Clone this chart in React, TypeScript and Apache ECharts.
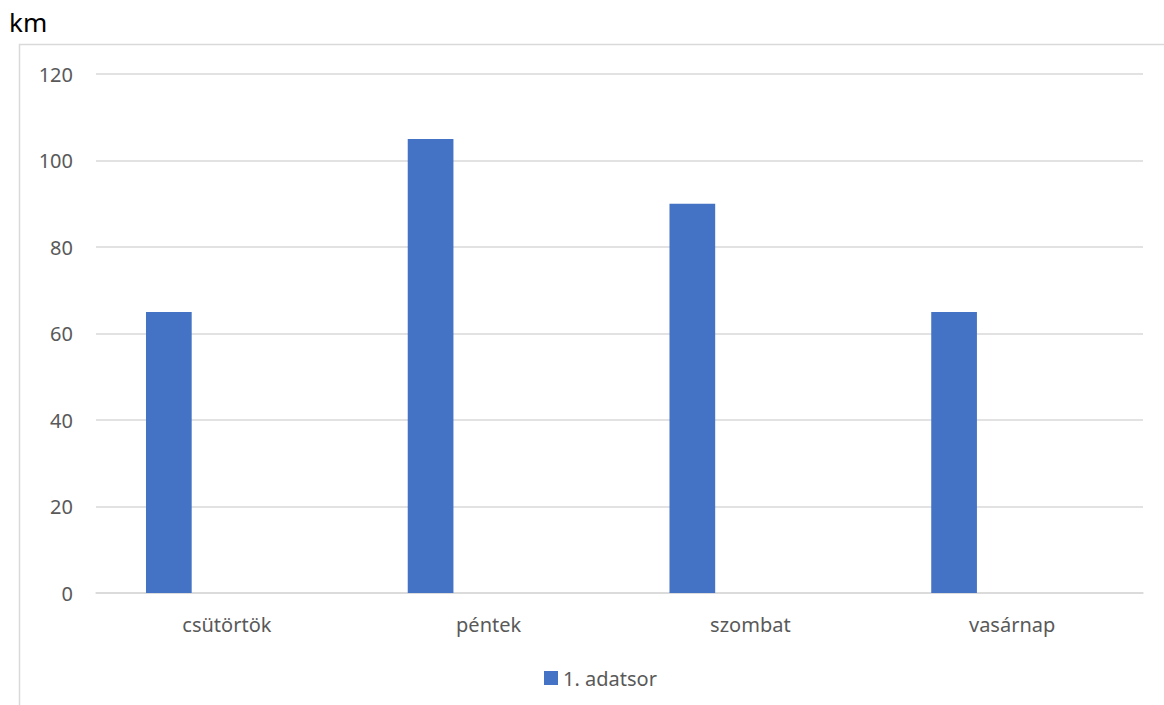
import React, { useEffect, useRef } from "react";
import * as echarts from "echarts";

const categories = ["csütörtök", "péntek", "szombat", "vasárnap"];
const series1 = [65, 105, 90, 65];
const seriesName = "1. adatsor";
const yTicks = { min: 0, max: 120, interval: 20 };
const unitLabel = "km";

export default function App() {
  const ref = useRef<HTMLDivElement>(null);
  useEffect(() => {
    if (!ref.current) return;
    const chart = echarts.init(ref.current, undefined, { renderer: "svg" });
    const font = "'Noto Sans', 'Open Sans', sans-serif";
    chart.setOption({
      animation: false,
      textStyle: { fontFamily: font },
      graphic: [
        {
          type: "rect",
          shape: { x: 19.5, y: 44.5, width: 1200, height: 700 },
          style: { fill: "none", stroke: "#d9d9d9", lineWidth: 1.5 },
          silent: true,
        },
        {
          type: "text",
          left: 9,
          top: 9,
          style: { text: unitLabel, fill: "#000", fontSize: 26, fontFamily: font },
        },
      ],
      grid: { left: 96, right: 21, top: 74, bottom: 112, containLabel: false },
      legend: {
        data: [seriesName],
        left: 539,
        top: 663,
        itemWidth: 14,
        itemHeight: 14,
        itemGap: 6,
        icon: "rect",
        textStyle: { color: "#595959", fontSize: 20, fontFamily: font },
      },
      xAxis: {
        type: "category",
        data: categories,
        axisLine: { lineStyle: { color: "#d9d9d9", width: 1.5 } },
        axisTick: { show: false },
        axisLabel: { color: "#595959", fontSize: 20, margin: 21, fontFamily: font },
      },
      yAxis: {
        type: "value",
        min: yTicks.min,
        max: yTicks.max,
        interval: yTicks.interval,
        axisLine: { show: false },
        axisTick: { show: false },
        axisLabel: { color: "#595959", fontSize: 20, margin: 23, fontFamily: font },
        splitLine: { lineStyle: { color: "#d9d9d9", width: 1.5 } },
      },
      series: [
        {
          name: seriesName,
          type: "bar",
          data: series1,
          barWidth: 45.7,
          barGap: "27%",
          itemStyle: { color: "#4472c4" },
        },
        { name: "2. adatsor", type: "bar", data: [], barWidth: 45.7, barGap: "27%" },
        { name: "3. adatsor", type: "bar", data: [], barWidth: 45.7, barGap: "27%" },
      ],
    });
    return () => chart.dispose();
  }, []);
  return (
    <div
      ref={ref}
      style={{ position: "fixed", left: 0, top: 0, width: 1164, height: 705, background: "#fff" }}
    />
  );
}
